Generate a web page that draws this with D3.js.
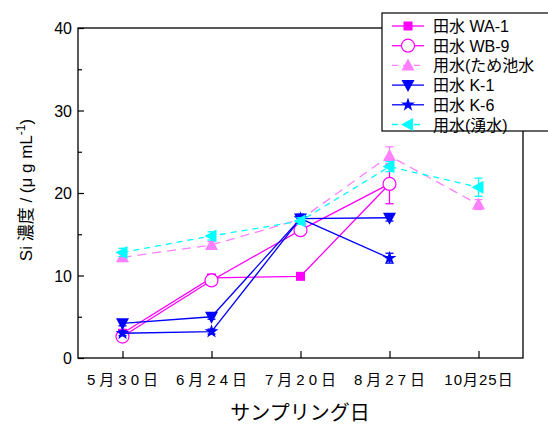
<!DOCTYPE html>
<meta charset="utf-8">
<style>
body { margin: 0; background: #fff; }
text { font-family: "Liberation Sans", Arial, "Noto Sans CJK JP", sans-serif; fill: #000; }
</style>
<body>
<script src="https://cdn.jsdelivr.net/npm/d3@7"></script>
<script>

// sampling dates (x categories)
var dates = ["5月30日", "6月24日", "7月20日", "8月27日", "10月25日"];

// Si concentration per site, null = not sampled
var waVals  = [3.0, 9.7, 9.9, 21.1, null];
var wbVals  = [2.6, 9.4, 15.5, 21.1, null];
var pondVals = [12.2, 13.7, 16.8, 24.5, 18.6];
var k1Vals  = [4.2, 5.0, 16.9, 17.0, null];
var k6Vals  = [3.0, 3.2, 16.9, 12.1, null];
var springVals = [12.8, 14.8, 16.6, 23.2, 20.7];

// error bars (half width)
var waErr  = [0.3, 0.3, 0.3, 0.5, null];
var wbErr  = [0.3, 0.3, 0.6, 2.4, null];
var pondErr = [0.4, 0.4, 0.5, 1.1, 0.6];
var k1Err  = [0.3, 0.3, 0.5, 0.4, null];
var k6Err  = [0.3, 0.3, 0.5, 0.6, null];
var springErr = [0.5, 0.5, 0.4, 0.6, 1.1];

var names = ["田水 WA-1", "田水 WB-9", "用水(ため池水", "田水 K-1", "田水 K-6", "用水(湧水)"];

var series = [
  {name: names[0], vals: waVals, err: waErr, colour: "#ff00ff", dash: null, marker: "square"},
  {name: names[1], vals: wbVals, err: wbErr, colour: "#ff00ff", dash: null, marker: "circle"},
  {name: names[2], vals: pondVals, err: pondErr, colour: "#ff80ff", dash: "9,6", marker: "tri-up"},
  {name: names[3], vals: k1Vals, err: k1Err, colour: "#0000ff", dash: null, marker: "tri-down"},
  {name: names[4], vals: k6Vals, err: k6Err, colour: "#0000ff", dash: null, marker: "star"},
  {name: names[5], vals: springVals, err: springErr, colour: "#00ffff", dash: "6,5", marker: "tri-left"}
];

var width = 548, height = 425;
var margin = {left: 78, right: 25, top: 28, bottom: 67};

var svg = d3.select("body").append("svg")
    .attr("width", width)
    .attr("height", height);

var x = d3.scaleLinear()
    .domain([-0.5, dates.length - 0.5])
    .range([margin.left, width - margin.right]);

var y = d3.scaleLinear()
    .domain([0, 40])
    .range([height - margin.bottom, margin.top]);

// frame
svg.append("rect")
    .attr("x", margin.left)
    .attr("y", margin.top)
    .attr("width", width - margin.right - margin.left)
    .attr("height", height - margin.bottom - margin.top)
    .attr("fill", "none")
    .attr("stroke", "#000")
    .attr("stroke-width", 1.3);

// y axis - ticks pointing inward
var yAxis = svg.append("g")
    .attr("transform", "translate(" + margin.left + ",0)")
    .call(d3.axisRight(y).tickValues([0, 10, 20, 30, 40]).tickSize(6).tickFormat(""));
yAxis.select(".domain").remove();
svg.append("g")
    .attr("transform", "translate(" + margin.left + ",0)")
    .call(d3.axisRight(y).tickValues([5, 15, 25, 35]).tickSize(4).tickFormat(""))
    .select(".domain").remove();
svg.selectAll(".tick line").attr("stroke-width", 1.2);

svg.selectAll(".ylab")
    .data([0, 10, 20, 30, 40])
    .enter().append("text")
    .attr("x", margin.left - 6)
    .attr("y", function(d) { return y(d) + 6; })
    .attr("text-anchor", "end")
    .style("font-size", "16px")
    .text(function(d) { return d; });

// x axis - ticks pointing inward
var xAxis = svg.append("g")
    .attr("transform", "translate(0," + (height - margin.bottom) + ")")
    .call(d3.axisTop(x).tickValues(d3.range(dates.length)).tickSize(7).tickFormat(""));
xAxis.select(".domain").remove();
xAxis.selectAll(".tick line").attr("stroke-width", 1.2);

svg.selectAll(".xlab")
    .data(dates)
    .enter().append("text")
    .attr("x", function(d, i) { return x(i) + (i < 4 ? 2 : 0.5); })
    .attr("y", height - margin.bottom + 27)
    .attr("text-anchor", "middle")
    .style("font-size", "15px")
    .style("letter-spacing", function(d, i) { return i < 4 ? "4px" : "1px"; })
    .text(function(d) { return d; });

// axis titles
svg.append("text")
    .attr("x", 300)
    .attr("y", 420)
    .attr("text-anchor", "middle")
    .style("font-size", "20px")
    .text("サンプリング日");

var ytitle = svg.append("text")
    .attr("transform", "translate(32,190) rotate(-90)")
    .attr("text-anchor", "middle")
    .style("font-size", "17px");
ytitle.append("tspan").text("Si 濃度 / (μ g mL");
ytitle.append("tspan").attr("dy", -7).style("font-size", "12px").text("-1");
ytitle.append("tspan").attr("dy", 7).text(")");

// markers
function drawMarker(g, type, colour) {
  if (type === "square") {
    g.append("rect").attr("x", -4.5).attr("y", -4.5).attr("width", 9).attr("height", 9)
      .attr("fill", colour);
  } else if (type === "circle") {
    g.append("circle").attr("r", 6.5).attr("fill", "#fff").attr("stroke", colour).attr("stroke-width", 1.2);
  } else if (type === "tri-up") {
    g.append("path").attr("d", "M0,-7L6.5,5L-6.5,5Z").attr("fill", colour);
  } else if (type === "tri-down") {
    g.append("path").attr("d", "M0,7L6.5,-5L-6.5,-5Z").attr("fill", colour);
  } else if (type === "tri-left") {
    g.append("path").attr("d", "M-7,0L5,-6.5L5,6.5Z").attr("fill", colour);
  } else if (type === "star") {
    g.append("path").attr("d", d3.symbol().type(d3.symbolStar).size(60)()).attr("fill", colour);
  }
}

var line = d3.line()
    .defined(function(d) { return d.v !== null; })
    .x(function(d) { return x(d.i); })
    .y(function(d) { return y(d.v); });

series.forEach(function(s) {
  var pts = s.vals.map(function(v, i) { return {i: i, v: v, e: s.err[i]}; });
  var g = svg.append("g");

  g.append("path")
      .datum(pts)
      .attr("d", line)
      .attr("fill", "none")
      .attr("stroke", s.colour)
      .attr("stroke-width", 1.3)
      .attr("stroke-dasharray", s.dash);

  var valid = pts.filter(function(d) { return d.v !== null; });

  var eb = g.selectAll(".eb").data(valid).enter().append("g")
      .attr("stroke", s.colour).attr("stroke-width", 1.3);
  eb.append("line")
      .attr("x1", function(d) { return x(d.i); })
      .attr("x2", function(d) { return x(d.i); })
      .attr("y1", function(d) { return y(d.v - d.e); })
      .attr("y2", function(d) { return y(d.v + d.e); });
  eb.append("line")
      .attr("x1", function(d) { return x(d.i) - 4; })
      .attr("x2", function(d) { return x(d.i) + 4; })
      .attr("y1", function(d) { return y(d.v - d.e); })
      .attr("y2", function(d) { return y(d.v - d.e); });
  eb.append("line")
      .attr("x1", function(d) { return x(d.i) - 4; })
      .attr("x2", function(d) { return x(d.i) + 4; })
      .attr("y1", function(d) { return y(d.v + d.e); })
      .attr("y2", function(d) { return y(d.v + d.e); });

  valid.forEach(function(d) {
    var m = g.append("g").attr("transform", "translate(" + x(d.i) + "," + y(d.v) + ")");
    drawMarker(m, s.marker, s.colour);
  });
});

// legend
var legend = svg.append("g").attr("transform", "translate(382,13)");
legend.append("rect")
    .attr("width", 170)
    .attr("height", 118)
    .attr("fill", "#fff")
    .attr("stroke", "#000")
    .attr("stroke-width", 1.2);

var legendRow = 19.7;
series.forEach(function(s, i) {
  var row = legend.append("g").attr("transform", "translate(0," + (13 + i * legendRow) + ")");
  row.append("line")
      .attr("x1", 10).attr("x2", 42)
      .attr("stroke", s.colour)
      .attr("stroke-width", 1.3)
      .attr("stroke-dasharray", s.dash ? "6,5" : null);
  var m = row.append("g").attr("transform", "translate(26,0)");
  drawMarker(m, s.marker, s.colour);
  row.append("text")
      .attr("x", 51)
      .attr("y", 6)
      .style("font-size", "16px")
      .text(s.name);
});

</script>
</body>
